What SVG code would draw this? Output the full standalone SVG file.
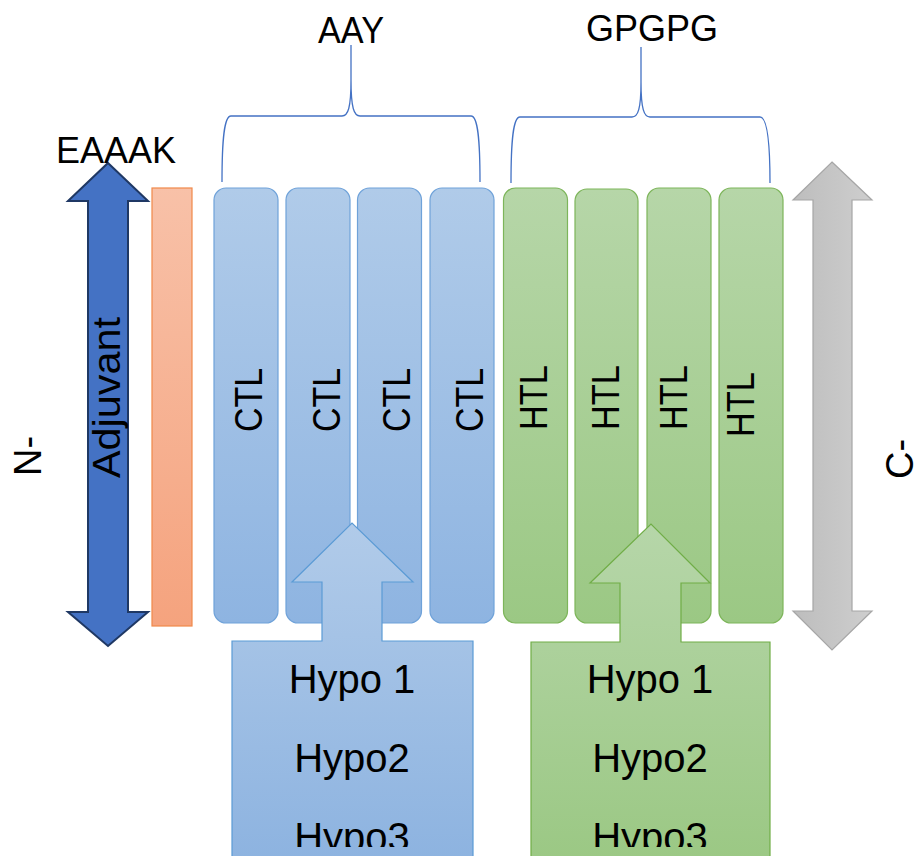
<svg xmlns="http://www.w3.org/2000/svg" width="916" height="856" viewBox="0 0 916 856">
<defs>
<linearGradient id="gBlue" x1="0" y1="0" x2="0" y2="1"><stop offset="0" stop-color="#B0CBE9"/><stop offset="1" stop-color="#8EB4E1"/></linearGradient>
<linearGradient id="gGreen" x1="0" y1="0" x2="0" y2="1"><stop offset="0" stop-color="#B6D6A8"/><stop offset="1" stop-color="#9BC884"/></linearGradient>
<linearGradient id="gOrange" x1="0" y1="0" x2="0" y2="1"><stop offset="0" stop-color="#F8C1A8"/><stop offset="1" stop-color="#F5A37E"/></linearGradient>
<linearGradient id="gGray" x1="0" y1="0" x2="1" y2="0"><stop offset="0" stop-color="#BDBDBD"/><stop offset="1" stop-color="#CECECE"/></linearGradient>
<linearGradient id="gBlueC" x1="0" y1="0" x2="0" y2="1"><stop offset="0" stop-color="#B1CBE9"/><stop offset="1" stop-color="#8DB3E0"/></linearGradient>
<linearGradient id="gGreenC" x1="0" y1="0" x2="0" y2="1"><stop offset="0" stop-color="#B6D6A9"/><stop offset="1" stop-color="#9BC884"/></linearGradient>
<clipPath id="clipText"><rect x="0" y="0" width="916" height="847"/></clipPath>
</defs>
<style>
text{font-family:"Liberation Sans",Arial,sans-serif;fill:#000;}
.ctl{fill:url(#gBlue);stroke:#6FA2D9;stroke-width:1.2;}
.htl{fill:url(#gGreen);stroke:#7DB55A;stroke-width:1.2;}
.lbl{font-size:38px;}
.brace{fill:none;stroke:#4472C4;stroke-width:1.3;}
.hypo{font-size:40px;}
</style>

<g id="adjuvant-arrow">
<path d="M108 163 L148 201 H128 V612 H148 L108 646 L68 612 H88 V201 H68 Z" fill="#4472C4" stroke="#1F3864" stroke-width="2" stroke-linejoin="miter"/>
<text transform="translate(120,397.5) rotate(-90)" text-anchor="middle" font-size="38" textLength="161" lengthAdjust="spacingAndGlyphs">Adjuvant</text>
</g>

<g id="eaaak-bar">
<rect x="152" y="188" width="40" height="438" fill="url(#gOrange)" stroke="#F0894A" stroke-width="1.2"/>
</g>

<g id="ctl1"><rect class="ctl" x="214" y="188" width="64" height="435" rx="12"/><text class="lbl" transform="translate(262,400) rotate(-90)" text-anchor="middle" textLength="64" lengthAdjust="spacingAndGlyphs">CTL</text></g>
<g id="ctl2"><rect class="ctl" x="286" y="188" width="64" height="435" rx="12"/><text class="lbl" transform="translate(340,400) rotate(-90)" text-anchor="middle" textLength="64" lengthAdjust="spacingAndGlyphs">CTL</text></g>
<g id="ctl3"><rect class="ctl" x="357.5" y="188" width="64" height="435" rx="12"/><text class="lbl" transform="translate(410,400) rotate(-90)" text-anchor="middle" textLength="64" lengthAdjust="spacingAndGlyphs">CTL</text></g>
<g id="ctl4"><rect class="ctl" x="430" y="188" width="64" height="435" rx="12"/><text class="lbl" transform="translate(483,400) rotate(-90)" text-anchor="middle" textLength="64" lengthAdjust="spacingAndGlyphs">CTL</text></g>

<g id="htl1"><rect class="htl" x="503.5" y="188" width="64" height="435" rx="12"/><text class="lbl" transform="translate(547,397.5) rotate(-90)" text-anchor="middle" textLength="65" lengthAdjust="spacingAndGlyphs">HTL</text></g>
<g id="htl2"><rect class="htl" x="575" y="189" width="63" height="434" rx="12"/><text class="lbl" transform="translate(619,397.5) rotate(-90)" text-anchor="middle" textLength="65" lengthAdjust="spacingAndGlyphs">HTL</text></g>
<g id="htl3"><rect class="htl" x="647" y="188" width="64" height="435" rx="12"/><text class="lbl" transform="translate(687,397.5) rotate(-90)" text-anchor="middle" textLength="65" lengthAdjust="spacingAndGlyphs">HTL</text></g>
<g id="htl4"><rect class="htl" x="719" y="188" width="64" height="435" rx="12"/><text class="lbl" transform="translate(754,404.5) rotate(-90)" text-anchor="middle" textLength="65" lengthAdjust="spacingAndGlyphs">HTL</text></g>

<g id="c-arrow">
<path d="M832 162 L872 200 H852 V611 H872 L832 650 L793 611 H813 V200 H793 Z" fill="url(#gGray)" stroke="#A6A6A6" stroke-width="1.2"/>
</g>

<g id="connectors">
<path class="brace" d="M222 182 C222 140 224 116 231 116 H342 C348 116 351 108 351 80 V45 M351 80 C351 108 354 116 360 116 H471 C478 116 480 140 480 182"/>
<path class="brace" d="M511 183 C511 141 513 117 520 117 H632 C638 117 641 109 641 82 V47 M641 82 C641 109 644 117 650 117 H760 C767 117 770 141 770 183"/>
</g>

<g id="hypo-ctl">
<path d="M232 641 H322 V582 H292 L352 523 L413 582 H382 V641 H473 V860 H232 Z" fill="url(#gBlueC)" stroke="#5B9BD5" stroke-width="1.2"/>
<g clip-path="url(#clipText)">
<text class="hypo" x="352" y="693" text-anchor="middle">Hypo 1</text>
<text class="hypo" x="352" y="772" text-anchor="middle">Hypo2</text>
<text class="hypo" x="352" y="851" text-anchor="middle">Hypo3</text>
</g>
</g>

<g id="hypo-htl">
<path d="M531 642 H620 V583 H590 L651 524 L710 583 H681 V642 H770 V860 H531 Z" fill="url(#gGreenC)" stroke="#70AD47" stroke-width="1.2"/>
<g clip-path="url(#clipText)">
<text class="hypo" x="650" y="693" text-anchor="middle">Hypo 1</text>
<text class="hypo" x="650" y="772" text-anchor="middle">Hypo2</text>
<text class="hypo" x="650" y="851" text-anchor="middle">Hypo3</text>
</g>
</g>

<g id="labels">
<text x="351" y="43" font-size="36" text-anchor="middle" textLength="66" lengthAdjust="spacingAndGlyphs">AAY</text>
<text x="652" y="41" font-size="36" text-anchor="middle">GPGPG</text>
<text x="116" y="163" font-size="36" text-anchor="middle">EAAAK</text>
<text transform="translate(41,456) rotate(-90)" font-size="38" text-anchor="middle">N-</text>
<text transform="translate(913,459) rotate(-90)" font-size="38" text-anchor="middle">C-</text>
</g>
</svg>
